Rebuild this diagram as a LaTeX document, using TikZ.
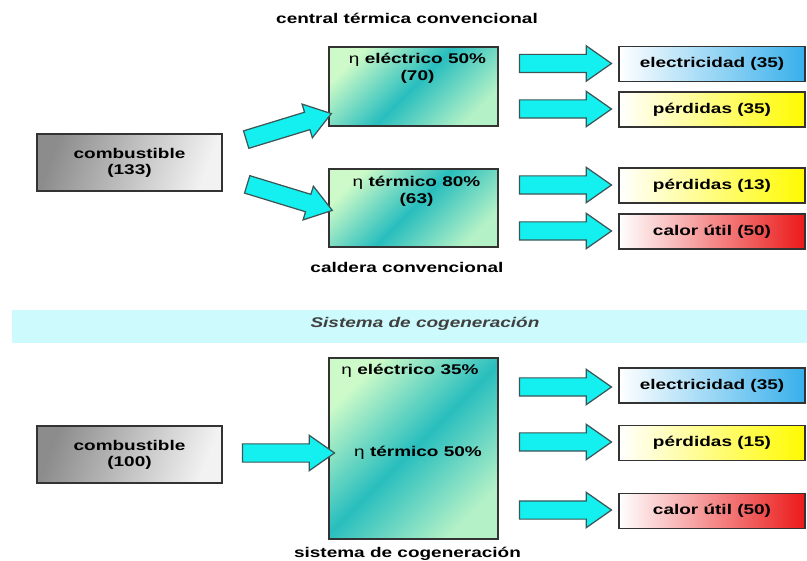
\documentclass[tikz,border=0pt]{standalone}
\usepackage{fontspec}
\setmainfont{Liberation Sans}[FakeStretch=1.35]
\usetikzlibrary{shapes.arrows}

\definecolor{flowcyan}{RGB}{20,240,240}
\definecolor{flowedge}{RGB}{60,85,85}
\definecolor{effpale}{RGB}{205,250,200}
\definecolor{effteal}{RGB}{40,190,190}
\definecolor{elecblue}{RGB}{55,175,235}
\definecolor{lossyellow}{RGB}{255,250,0}
\definecolor{heatred}{RGB}{235,25,25}
\definecolor{bandcyan}{RGB}{205,250,252}

\begin{document}
\begin{tikzpicture}[
  font=\fontsize{8}{9.2}\selectfont\bfseries,
  fuelbox/.style={draw=black!80, line width=0.9pt, left color=black!45, right color=black!5, shading angle=70, minimum width=3.7cm, minimum height=1.14cm, align=center},
  effbox/.style={draw=black!80, line width=0.9pt, top color=effpale, bottom color=effpale!85!effteal, middle color=effteal, shading angle=45, minimum width=3.38cm},
  outbox/.style={draw=black!80, line width=0.9pt, left color=white, minimum width=3.72cm, minimum height=0.7cm},
  flow/.style={single arrow, draw=flowedge, fill=flowcyan, line width=0.7pt, inner sep=0.17cm, single arrow head extend=0.17cm, single arrow tip angle=70, minimum height=1.84cm},
  boxtext/.style={align=center, inner sep=0pt}
]
\useasboundingbox (0,0) rectangle (16.14,11.2);

% Conventional plant and boiler
\node (plantLbl) at (8.14,10.84) {central térmica convencional};
\node[fuelbox] (fuelA) at (2.59,7.95) {combustible\\(133)};
\node[effbox, minimum height=1.58cm] (elecEff) at (8.27,9.47) {};
\node[boxtext, anchor=north] (elecEffTxt) at ([xshift=0.08cm, yshift=-0.14cm]elecEff.north) {{\mdseries η} eléctrico 50\%\\(70)};
\node[effbox, minimum height=1.56cm] (heatEff) at (8.27,7.04) {};
\node[boxtext, anchor=north] (heatEffTxt) at ([xshift=0.06cm, yshift=-0.16cm]heatEff.north) {{\mdseries η} térmico 80\%\\(63)};
\node (boilerLbl) at (8.14,5.86) {caldera convencional};

\node[flow, rotate=17, minimum height=1.78cm] (fuelToElec) at (5.65,8.63) {};
\node[flow, rotate=-17, minimum height=1.78cm] (fuelToHeat) at (5.67,7.29) {};

\node[flow] (elecOutArr) at (11.18,9.93) {};
\node[flow] (elecLossArr) at (11.18,9.02) {};
\node[flow] (heatLossArr) at (11.18,7.50) {};
\node[flow] (heatOutArr) at (11.18,6.58) {};

\node[outbox, right color=elecblue] (elecOut) at (14.24,9.92) {electricidad (35)};
\node[outbox, right color=lossyellow] (elecLoss) at (14.24,9.01) {pérdidas (35)};
\node[outbox, right color=lossyellow] (heatLoss) at (14.24,7.49) {pérdidas (13)};
\node[outbox, right color=heatred] (heatOut) at (14.24,6.57) {calor útil (50)};

% Band
\fill[bandcyan] (0.24,5.0) rectangle (16.14,4.34);
\node[font=\fontsize{8}{9.6}\selectfont\bfseries\itshape, text=black!75] (cogTitle) at (8.5,4.72) {Sistema de cogeneración};

% Cogeneration
\node[fuelbox] (fuelB) at (2.59,2.11) {combustible\\(100)};
\node[effbox, minimum height=3.62cm] (cogEff) at (8.27,2.23) {};
\node[boxtext, anchor=north] (cogElecTxt) at ([xshift=-0.07cm, yshift=-0.14cm]cogEff.north) {{\mdseries η} eléctrico 35\%};
\node[boxtext] (cogHeatTxt) at (8.36,2.14) {{\mdseries η} térmico 50\%};
\node[anchor=base] (cogLbl) at (8.15,0.05) {sistema de cogeneración};

\node[flow] (fuelToCog) at (5.64,2.14) {};
\node[flow] (cogElecArr) at (11.18,3.46) {};
\node[flow] (cogLossArr) at (11.18,2.36) {};
\node[flow] (cogHeatArr) at (11.18,1.00) {};

\node[outbox, right color=elecblue] (cogElecOut) at (14.24,3.49) {electricidad (35)};
\node[outbox, right color=lossyellow] (cogLoss) at (14.24,2.34) {pérdidas (15)};
\node[outbox, right color=heatred] (cogHeatOut) at (14.24,0.98) {calor útil (50)};

\end{tikzpicture}
\end{document}
